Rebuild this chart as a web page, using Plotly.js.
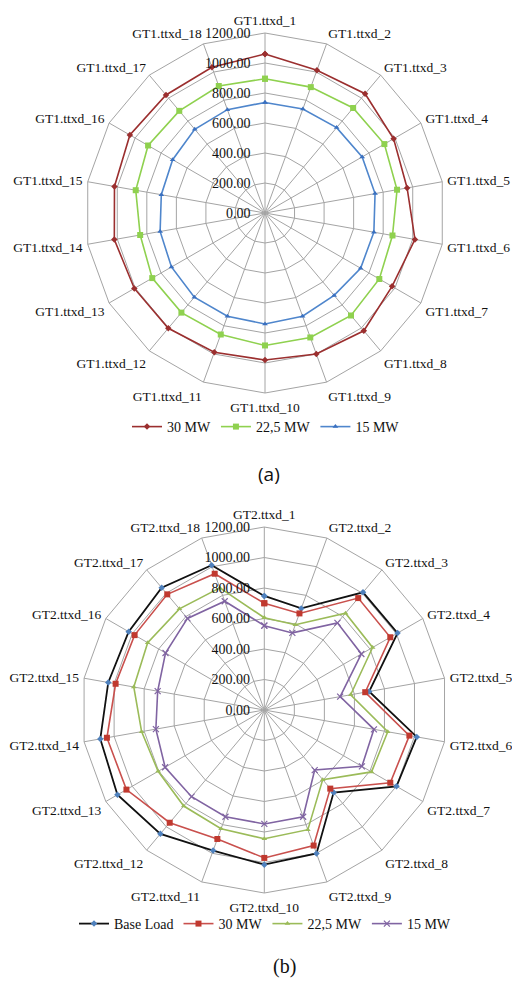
<!DOCTYPE html>
<html>
<head>
<meta charset="utf-8">
<script src="https://cdn.plot.ly/plotly-3.0.1.min.js"></script>
<style>html,body{margin:0;padding:0;background:#fff;}#chart{width:512px;height:981px;}</style>
</head>
<body>
<div id="chart"></div>
<script>
var catsA = ["GT1.ttxd_1","GT1.ttxd_2","GT1.ttxd_3","GT1.ttxd_4","GT1.ttxd_5","GT1.ttxd_6","GT1.ttxd_7","GT1.ttxd_8","GT1.ttxd_9","GT1.ttxd_10","GT1.ttxd_11","GT1.ttxd_12","GT1.ttxd_13","GT1.ttxd_14","GT1.ttxd_15","GT1.ttxd_16","GT1.ttxd_17","GT1.ttxd_18"];
var catsB = ["GT2.ttxd_1","GT2.ttxd_2","GT2.ttxd_3","GT2.ttxd_4","GT2.ttxd_5","GT2.ttxd_6","GT2.ttxd_7","GT2.ttxd_8","GT2.ttxd_9","GT2.ttxd_10","GT2.ttxd_11","GT2.ttxd_12","GT2.ttxd_13","GT2.ttxd_14","GT2.ttxd_15","GT2.ttxd_16","GT2.ttxd_17","GT2.ttxd_18"];

var a30  = [1060, 1012, 1038, 990, 962, 1015, 978, 1025, 1000, 980, 988, 1003, 1006, 1020, 1019, 1040, 1027, 1034];
var a225 = [895, 893, 914, 919, 894, 863, 880, 892, 883, 883, 862, 867, 868, 845, 875, 900, 889, 901];
var a15  = [737, 738, 743, 748, 745, 737, 736, 717, 732, 740, 732, 733, 720, 710, 702, 711, 729, 733];

var bBase = [748, 709, 1007, 1009, 698, 1015, 1001, 707, 1001, 1014, 981, 1060, 1112, 1092, 1039, 1027, 1047, 1010];
var b30   = [700, 674, 958, 954, 672, 966, 954, 673, 946, 970, 900, 965, 1044, 1048, 990, 982, 990, 951];
var b225  = [605, 595, 829, 820, 575, 822, 812, 596, 835, 844, 829, 822, 804, 817, 869, 883, 866, 852];
var b15   = [553, 538, 746, 735, 505, 730, 739, 514, 745, 747, 745, 742, 751, 722, 710, 748, 784, 759];

var seriesA = ["30 MW", "22,5 MW", "15 MW"];
var seriesB = ["Base Load", "30 MW", "22,5 MW", "15 MW"];
var radialTicks = [0, 200, 400, 600, 800, 1000, 1200];

function closed(arr){ return arr.concat([arr[0]]); }

var serif = "Liberation Serif";
var gridC = "#a4a4a4";

function tr(sub, leg, cats, vals, name, lineColor, mColor, symbol, msize, lw){
  return {
    type: "scatterpolar", subplot: sub, legend: leg,
    theta: closed(cats), r: closed(vals), name: name,
    mode: "lines+markers",
    line: {color: lineColor, width: lw},
    marker: {color: mColor, symbol: symbol, size: msize, line: {width: 0}},
    cliponaxis: false
  };
}

var data = [
  tr("polar", "legend", catsA, a30, seriesA[0], "#9b2f2f", "#9b2f2f", "diamond", 5, 1.6),
  tr("polar", "legend", catsA, a225, seriesA[1], "#8fd14f", "#8fd14f", "square", 6, 1.6),
  tr("polar", "legend", catsA, a15, seriesA[2], "#4f86cc", "#3a70c0", "triangle-up", 5, 1.6),
  tr("polar2", "legend2", catsB, bBase, seriesB[0], "#111111", "#4f81bd", "diamond", 5, 1.8),
  tr("polar2", "legend2", catsB, b30, seriesB[1], "#c9504d", "#c0392f", "square", 6, 1.6),
  tr("polar2", "legend2", catsB, b225, seriesB[2], "#9bbb59", "#9bbb59", "triangle-up", 5, 1.6),
  tr("polar2", "legend2", catsB, b15, seriesB[3], "#8064a2", "#8064a2", "x-thin-open", 6, 1.6)
];
data[6].marker.line = {color: "#8064a2", width: 1.2};

function polarCfg(xd, yd){
  return {
    domain: {x: xd, y: yd},
    bgcolor: "rgba(0,0,0,0)",
    gridshape: "linear",
    hole: 0,
    angularaxis: {
      rotation: 90, direction: "clockwise", type: "category",
      showgrid: true, gridcolor: gridC, gridwidth: 1,
      showline: true, linecolor: gridC, linewidth: 1,
      ticks: "outside", ticklen: 2, tickcolor: "rgba(0,0,0,0)",
      tickfont: {family: serif, size: 13.5, color: "#111"}
    },
    radialaxis: {
      range: [0, 1200], tickvals: radialTicks, tickformat: ".2f",
      angle: 90, side: "counterclockwise", tickangle: 90,
      showgrid: true, gridcolor: gridC, gridwidth: 1,
      showline: false, ticks: "outside", ticklen: 9, tickcolor: "rgba(0,0,0,0)",
      tickfont: {family: serif, size: 14, color: "#111"}
    }
  };
}

var layout = {
  width: 512, height: 981,
  margin: {l: 0, r: 0, t: 0, b: 0},
  paper_bgcolor: "#fff",
  showlegend: true,
  polar: polarCfg([85/512, 445/512], [588/981, 948/981]),
  polar2: polarCfg([81.3/512, 447.3/512], [88/981, 454/981]),
  legend: {orientation: "h", x: 266/512, xanchor: "center", y: 1 - 427/981, yanchor: "middle",
    font: {family: serif, size: 14, color: "#111"}, itemwidth: 30, tracegroupgap: 0, bgcolor: "rgba(0,0,0,0)"},
  legend2: {orientation: "h", x: 265/512, xanchor: "center", y: 1 - 924/981, yanchor: "middle",
    font: {family: serif, size: 14, color: "#111"}, itemwidth: 30, tracegroupgap: 0, bgcolor: "rgba(0,0,0,0)"},
  annotations: [
    {text: "(a)", xref: "paper", yref: "paper", x: 269/512, y: 1 - 474/981, xanchor: "center", yanchor: "middle",
     showarrow: false, font: {family: "Open Sans", size: 19, color: "#111"}},
    {text: "(b)", xref: "paper", yref: "paper", x: 284/512, y: 1 - 966/981, xanchor: "center", yanchor: "middle",
     showarrow: false, font: {family: serif, size: 20, color: "#111"}}
  ]
};

Plotly.newPlot("chart", data, layout, {staticPlot: true, displayModeBar: false});
</script>
</body>
</html>
